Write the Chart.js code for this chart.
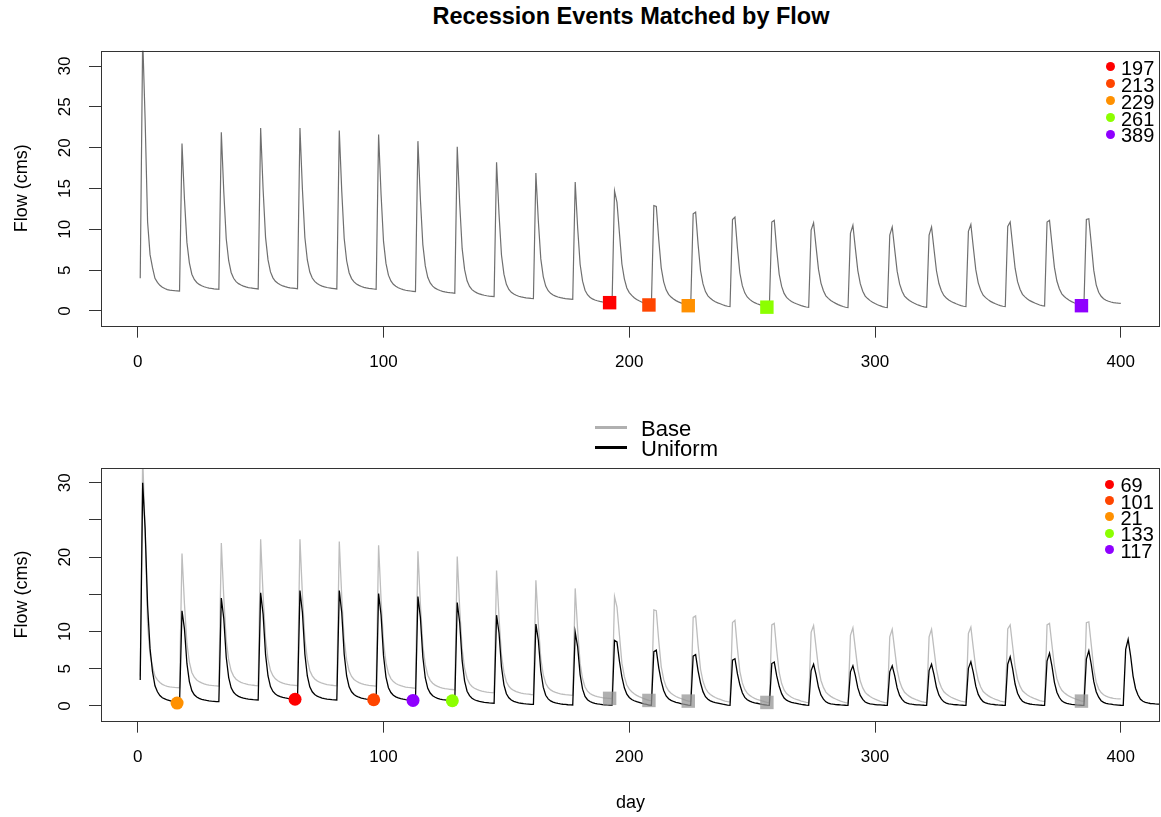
<!DOCTYPE html>
<html>
<head>
<meta charset="utf-8">
<script src="https://cdn.jsdelivr.net/npm/chart.js@4.4.1/dist/chart.umd.min.js"></script>
<style>
  html,body{margin:0;padding:0;background:#fff;}
  body{width:1161px;height:817px;position:relative;overflow:hidden;font-family:"Liberation Sans",Arial,Helvetica,sans-serif;color:#000;}
  .abs{position:absolute;white-space:nowrap;}
  canvas{position:absolute;left:0;}
  #title{left:331px;width:600px;top:4.5px;text-align:center;font-weight:bold;font-size:23.5px;line-height:23.5px;}
  .lg{font-size:20px;line-height:20px;}
  .dot{width:9px;height:9px;border-radius:50%;}
  .lg2{font-size:22px;line-height:22px;}
</style>
</head>
<body>
<div id="title" class="abs">Recession Events Matched by Flow</div>
<canvas id="c1" width="1161" height="400" style="top:0px"></canvas>
<canvas id="c2" width="1161" height="417" style="top:400px"></canvas>
<div id="legends"></div>
<script>
// ---------------- DATA ----------------
const baseFirstDay = 1;
const baseFlow = [
  4.0,
  33.5, 23.4, 10.9, 6.9, 5.3, 4.0, 3.5, 3.15, 2.9, 2.75, 2.62, 2.56, 2.52, 2.49, 2.47, 2.45,
  20.5, 13.7, 8.4, 5.9, 4.5, 3.86, 3.49, 3.26, 3.1, 2.97, 2.88, 2.81, 2.76, 2.72, 2.69, 2.65,
  21.9, 14.6, 8.84, 6.16, 4.72, 4.01, 3.6, 3.35, 3.18, 3.05, 2.95, 2.87, 2.82, 2.78, 2.74, 2.7,
  22.4, 14.92, 9.02, 6.26, 4.79, 4.06, 3.64, 3.39, 3.21, 3.07, 2.98, 2.9, 2.84, 2.8, 2.76, 2.72,
  22.4, 14.9, 9.0, 6.25, 4.77, 4.04, 3.63, 3.37, 3.19, 3.05, 2.96, 2.88, 2.82, 2.78, 2.74, 2.7,
  22.1, 14.71, 8.87, 6.15, 4.69, 3.97, 3.56, 3.31, 3.14, 3.0, 2.9, 2.83, 2.77, 2.73, 2.69, 2.65,
  21.6, 14.29, 8.52, 5.83, 4.39, 3.68, 3.27, 3.02, 2.85, 2.72, 2.62, 2.54, 2.49, 2.45, 2.41, 2.37,
  20.8, 13.72, 8.13, 5.52, 4.13, 3.44, 3.05, 2.8, 2.64, 2.51, 2.41, 2.34, 2.28, 2.24, 2.21, 2.17,
  20.1, 13.13, 7.63, 5.06, 3.69, 3.01, 2.62, 2.38, 2.22, 2.09, 2.0, 1.93, 1.87, 1.83, 1.8, 1.76,
  18.2, 11.86, 6.85, 4.51, 3.26, 2.64, 2.29, 2.08, 1.93, 1.81, 1.73, 1.66, 1.61, 1.58, 1.54, 1.51,
  16.9, 11.02, 6.38, 4.21, 3.05, 2.48, 2.16, 1.96, 1.82, 1.71, 1.63, 1.57, 1.52, 1.49, 1.46, 1.43,
  15.8, 10.17, 5.72, 3.65, 2.54, 1.99, 1.68, 1.48, 1.35, 1.25, 1.17, 1.11, 1.07, 1.04, 1.02, 0.98,
  14.7, 13.3, 9.53, 5.75, 3.94, 2.82, 2.26, 1.91, 1.63, 1.42, 1.25, 1.11, 0.97, 0.86, 0.74, 0.72,
  12.9, 12.8, 8.73, 5.29, 3.57, 2.59, 2.04, 1.71, 1.46, 1.27, 1.12, 1.0, 0.88, 0.76, 0.65, 0.63,
  11.9, 12.1, 8.17, 4.93, 3.31, 2.38, 1.86, 1.55, 1.32, 1.13, 0.99, 0.88, 0.76, 0.66, 0.58, 0.53,
  11.2, 11.5, 7.74, 4.65, 3.1, 2.22, 1.72, 1.42, 1.2, 1.02, 0.89, 0.78, 0.67, 0.57, 0.47, 0.45,
  10.9, 11.1, 7.48, 4.5, 3.01, 2.15, 1.67, 1.39, 1.17, 1.0, 0.88, 0.77, 0.66, 0.57, 0.49, 0.45,
  9.9, 10.8, 7.89, 5.09, 3.42, 2.49, 1.86, 1.55, 1.29, 1.09, 0.93, 0.78, 0.66, 0.55, 0.46, 0.41,
  9.5, 10.5, 7.67, 4.95, 3.34, 2.43, 1.82, 1.52, 1.27, 1.07, 0.91, 0.77, 0.65, 0.54, 0.46, 0.41,
  9.3, 10.3, 7.54, 4.88, 3.31, 2.42, 1.83, 1.53, 1.29, 1.09, 0.94, 0.8, 0.69, 0.58, 0.5, 0.45,
  9.3, 10.3, 7.56, 4.93, 3.36, 2.48, 1.9, 1.6, 1.36, 1.17, 1.02, 0.88, 0.76, 0.66, 0.58, 0.53,
  9.75, 10.6, 7.78, 5.06, 3.45, 2.54, 1.94, 1.64, 1.39, 1.18, 1.03, 0.89, 0.77, 0.66, 0.58, 0.53,
  10.35, 10.9, 8.02, 5.24, 3.59, 2.66, 2.04, 1.73, 1.48, 1.27, 1.12, 0.97, 0.85, 0.73, 0.65, 0.6,
  10.9, 11.1, 8.17, 5.34, 3.67, 2.72, 2.1, 1.78, 1.52, 1.31, 1.15, 1.01, 0.88, 0.77, 0.65, 0.63,
  11.2, 11.3, 8.2, 5.0, 3.2, 2.3, 1.8, 1.5, 1.32, 1.2, 1.1, 1.03, 0.99, 0.96, 0.94
];

const uniformFirstDay = 1;
const uniformFlow = [
  3.5,
  30.0, 23.8, 13.5, 7.7, 4.6, 2.7, 1.9, 1.4, 1.1, 0.95, 0.8, 0.7, 0.6, 0.45, 0.38, 0.36,
  12.8, 10.36, 5.71, 3.27, 2.05, 1.5, 1.19, 1.01, 0.89, 0.8, 0.74, 0.69, 0.65, 0.62, 0.59, 0.58,
  14.5, 11.76, 6.55, 3.81, 2.44, 1.83, 1.49, 1.28, 1.14, 1.05, 0.98, 0.92, 0.88, 0.84, 0.81, 0.8,
  15.2, 12.34, 6.89, 4.03, 2.6, 1.95, 1.6, 1.38, 1.24, 1.14, 1.07, 1.01, 0.97, 0.92, 0.9, 0.88,
  15.5, 12.56, 6.97, 4.03, 2.56, 1.9, 1.54, 1.31, 1.17, 1.06, 0.99, 0.93, 0.89, 0.84, 0.81, 0.8,
  15.5, 12.56, 6.97, 4.03, 2.56, 1.9, 1.54, 1.31, 1.17, 1.06, 0.99, 0.93, 0.89, 0.86, 0.83, 0.8,
  15.1, 12.22, 6.76, 3.88, 2.45, 1.8, 1.44, 1.22, 1.08, 0.98, 0.91, 0.85, 0.81, 0.76, 0.74, 0.72,
  14.7, 11.9, 6.57, 3.76, 2.36, 1.73, 1.38, 1.17, 1.03, 0.93, 0.86, 0.81, 0.76, 0.72, 0.7, 0.68,
  13.9, 11.19, 6.05, 3.34, 1.98, 1.38, 1.04, 0.83, 0.7, 0.6, 0.54, 0.48, 0.44, 0.4, 0.37, 0.36,
  12.2, 9.8, 5.24, 2.84, 1.64, 1.1, 0.8, 0.62, 0.5, 0.42, 0.36, 0.31, 0.27, 0.24, 0.21, 0.2,
  11.0, 8.83, 4.7, 2.52, 1.43, 0.95, 0.67, 0.51, 0.4, 0.33, 0.27, 0.23, 0.2, 0.16, 0.14, 0.13,
  9.9, 7.94, 4.22, 2.26, 1.28, 0.84, 0.59, 0.44, 0.35, 0.28, 0.23, 0.19, 0.16, 0.13, 0.11, 0.1,
  8.8, 8.6, 6.01, 3.92, 2.44, 1.57, 1.14, 0.87, 0.7, 0.57, 0.48, 0.38, 0.28, 0.2, 0.12, 0.09,
  7.3, 7.5, 5.13, 3.34, 2.08, 1.34, 0.97, 0.75, 0.6, 0.49, 0.41, 0.32, 0.24, 0.18, 0.11, 0.08,
  6.7, 6.9, 4.72, 3.08, 1.92, 1.24, 0.9, 0.69, 0.56, 0.46, 0.39, 0.31, 0.23, 0.17, 0.11, 0.08,
  6.15, 6.35, 4.34, 2.84, 1.77, 1.15, 0.83, 0.64, 0.52, 0.42, 0.36, 0.29, 0.22, 0.16, 0.11, 0.08,
  5.7, 5.9, 4.04, 2.64, 1.65, 1.07, 0.78, 0.6, 0.49, 0.4, 0.34, 0.27, 0.21, 0.16, 0.1, 0.08,
  4.76, 5.6, 4.22, 2.51, 1.46, 0.91, 0.55, 0.38, 0.29, 0.23, 0.19, 0.16, 0.13, 0.11, 0.09, 0.08,
  4.59, 5.4, 4.07, 2.42, 1.41, 0.88, 0.53, 0.37, 0.28, 0.23, 0.19, 0.15, 0.13, 0.11, 0.09, 0.08,
  4.59, 5.4, 4.07, 2.42, 1.41, 0.88, 0.53, 0.37, 0.28, 0.23, 0.19, 0.15, 0.13, 0.11, 0.09, 0.08,
  4.76, 5.6, 4.22, 2.51, 1.46, 0.91, 0.55, 0.38, 0.29, 0.23, 0.19, 0.16, 0.13, 0.11, 0.09, 0.08,
  5.06, 5.95, 4.48, 2.66, 1.55, 0.96, 0.58, 0.4, 0.3, 0.24, 0.2, 0.16, 0.13, 0.11, 0.09, 0.08,
  5.61, 6.6, 4.97, 2.95, 1.71, 1.06, 0.63, 0.44, 0.33, 0.26, 0.21, 0.17, 0.14, 0.11, 0.09, 0.08,
  6.04, 7.1, 5.35, 3.17, 1.84, 1.13, 0.68, 0.47, 0.35, 0.28, 0.22, 0.18, 0.14, 0.12, 0.09, 0.08,
  6.29, 7.4, 5.57, 3.3, 1.91, 1.18, 0.7, 0.48, 0.36, 0.28, 0.23, 0.18, 0.15, 0.12, 0.09, 0.08,
  7.6, 8.95, 6.75, 4.02, 2.35, 1.47, 0.9, 0.63, 0.48, 0.4, 0.33, 0.3, 0.27, 0.25, 0.23, 0.22, 0.21, 0.2, 0.19
];

// matched events on Base (top panel squares, bottom panel grey squares)
const baseEventDays   = [192, 208, 224, 256, 384];
const baseEventFlows  = [1.02, 0.74, 0.65, 0.47, 0.65];
const baseEventLabels = ['197', '213', '229', '261', '389'];

// matched events on Uniform (bottom panel circles)
const uniformEventDays   = [64, 96, 16, 128, 112];
const uniformEventFlows  = [0.9, 0.83, 0.38, 0.7, 0.74];
const uniformEventLabels = ['69', '101', '21', '133', '117'];

const eventColors = ['#FF0000', '#FF4500', '#FF9000', '#8CFF00', '#8F00FF'];

const xTicks = [0, 100, 200, 300, 400];
const yTicksTop = [0, 5, 10, 15, 20, 25, 30];
const yTickLabelsTop = ['0', '5', '10', '15', '20', '25', '30'];
const yTicksBottom = [0, 5, 10, 15, 20, 25, 30];
const yTickLabelsBottom = ['0', '5', '10', '', '20', '', '30'];

const seriesNames = ['Base', 'Uniform'];

// ---------------- CHARTS ----------------
const FAMILY = '"Liberation Sans", Arial, Helvetica, sans-serif';
Chart.defaults.font.family = FAMILY;
Chart.defaults.color = '#000';

const toXY = (arr, first) => arr.map((v, i) => ({x: first + i, y: v}));
const toPts = (xs, ys) => xs.map((x, i) => ({x: x, y: ys[i]}));

const boxPlugin = {
  id: 'box',
  afterDatasetsDraw(chart) {
    const {ctx, chartArea: a} = chart;
    ctx.save();
    ctx.strokeStyle = '#333';
    ctx.lineWidth = 1;
    const l = Math.round(a.left) + 0.5, t = Math.round(a.top) + 0.5;
    const r = Math.round(a.right) - 0.5, b = Math.round(a.bottom) + 0.5;
    ctx.strokeRect(l, t, r - l, b - t);
    ctx.restore();
  }
};

function xScale(height, showTitle) {
  return {
    type: 'linear', min: -14.96, max: 415.96,
    afterBuildTicks: s => { s.ticks = xTicks.map(v => ({value: v})); },
    ticks: {font: {size: 17}, color: '#000', padding: 14.3, maxRotation: 0, autoSkip: false,
            callback: v => String(v)},
    grid: {display: true, drawOnChartArea: false, drawTicks: true, tickLength: 12, color: '#333', lineWidth: 1},
    border: {display: false},
    title: {display: showTitle, text: 'day', font: {size: 18}, color: '#000', padding: {top: 0, bottom: 3.2}},
    afterFit: s => { s.height = height; s.paddingLeft = 0; s.paddingRight = 0; }
  };
}
function yScale(min, max, ticks, labels) {
  return {
    type: 'linear', min: min, max: max,
    afterBuildTicks: s => { s.ticks = ticks.map(v => ({value: v})); },
    ticks: {font: {size: 17}, color: '#000', padding: 14.5, minRotation: 90, maxRotation: 90,
            crossAlign: 'center', autoSkip: false, callback: (v, i) => labels[i]},
    grid: {display: true, drawOnChartArea: false, drawTicks: true, tickLength: 12, color: '#333', lineWidth: 1},
    border: {display: false},
    title: {display: true, text: 'Flow (cms)', font: {size: 18}, color: '#000', padding: {top: 11, bottom: 0}},
    afterFit: s => { s.width = 101; s.paddingTop = 0; s.paddingBottom = 0; }
  };
}
const common = {
  responsive: false, animation: false, devicePixelRatio: 1,
  plugins: {legend: {display: false}, tooltip: {enabled: false}, title: {display: false}},
  events: []
};

new Chart(document.getElementById('c1'), {
  type: 'line',
  data: {datasets: [
    {data: toPts(baseEventDays, baseEventFlows), showLine: false, pointStyle: 'rect', pointRadius: 9.5,
     pointBackgroundColor: eventColors, pointBorderWidth: 0, order: 0, clip: false},
    {label: seriesNames[0], data: toXY(baseFlow, baseFirstDay), borderColor: '#6f6f6f', borderWidth: 1.2,
     pointRadius: 0, tension: 0, fill: false, order: 1, clip: 0}
  ]},
  options: Object.assign({}, common, {
    layout: {autoPadding: false, padding: {top: 50.67, left: 0, right: 1, bottom: 0}},
    scales: {x: xScale(74.33, false), y: yScale(-1.797, 31.88, yTicksTop, yTickLabelsTop)}
  }),
  plugins: [boxPlugin]
});

new Chart(document.getElementById('c2'), {
  type: 'line',
  data: {datasets: [
    {data: toPts(uniformEventDays, uniformEventFlows), showLine: false, pointStyle: 'circle', pointRadius: 6.5,
     pointBackgroundColor: eventColors, pointBorderWidth: 0, order: 0, clip: false},
    {data: toPts(baseEventDays, baseEventFlows), showLine: false, pointStyle: 'rect', pointRadius: 9.5,
     pointBackgroundColor: 'rgba(150,150,150,0.75)', pointBorderWidth: 0, order: 1, clip: false},
    {label: seriesNames[1], data: toXY(uniformFlow, uniformFirstDay), borderColor: '#000', borderWidth: 1.3,
     pointRadius: 0, tension: 0, fill: false, order: 2, clip: 0},
    {label: seriesNames[0], data: toXY(baseFlow, baseFirstDay), borderColor: '#bdbdbd', borderWidth: 1.3,
     pointRadius: 0, tension: 0, fill: false, order: 3, clip: 0}
  ]},
  options: Object.assign({}, common, {
    layout: {autoPadding: false, padding: {top: 68.33, left: 0, right: 1, bottom: 0}},
    scales: {x: xScale(96.33, true), y: yScale(-1.98, 31.94, yTicksBottom, yTickLabelsBottom)}
  }),
  plugins: [boxPlugin]
});

// ---------------- LEGENDS (HTML text) ----------------
const lg = document.getElementById('legends');
function addEl(cls, style, text) {
  const d = document.createElement('div');
  d.className = 'abs ' + cls;
  Object.assign(d.style, style);
  if (text !== undefined) d.textContent = text;
  lg.appendChild(d);
}
function dotLegend(labels, x0, y0, dy) {
  labels.forEach((t, i) => {
    const y = y0 + dy * i;
    addEl('dot', {left: (x0 - 4.5) + 'px', top: (y - 4.5) + 'px', background: eventColors[i]});
    addEl('lg', {left: (x0 + 11) + 'px', top: (y - 9) + 'px'}, t);
  });
}
dotLegend(baseEventLabels, 1110, 66.8, 16.9);
dotLegend(uniformEventLabels, 1109.5, 484.3, 16.3);

const lineColors = ['#b0b0b0', '#000000'];
const lineYs = [427.7, 447.3];
seriesNames.forEach((n, i) => {
  addEl('', {left: '595px', top: (lineYs[i] - 1.5) + 'px', width: '32px', height: '3px', background: lineColors[i]});
  addEl('lg2', {left: '641px', top: (lineYs[i] + 1 - 10.8) + 'px'}, n);
});
</script>
</body>
</html>
